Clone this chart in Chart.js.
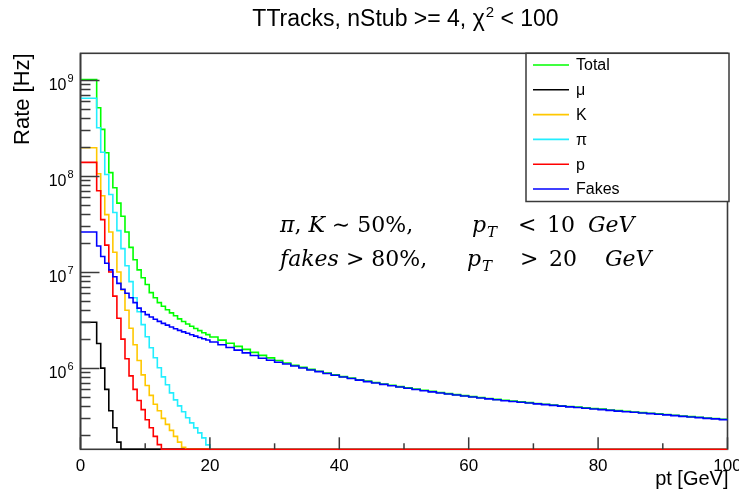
<!DOCTYPE html>
<html><head><meta charset="utf-8">
<script src="https://cdn.jsdelivr.net/npm/chart.js@4.4.1/dist/chart.umd.min.js"></script>
<style>html,body{margin:0;padding:0;background:#fff}#wrap{width:739px;height:492px;position:relative}</style>
</head><body><div id="wrap"><canvas id="c" width="739" height="492"></canvas></div>
<script>
// ---- data ----
// low edges of the 0.625 GeV bins, 0-20 GeV
const ptLow = [0,0.625,1.25,1.875,2.5,3.125,3.75,4.375,5,5.625,6.25,6.875,7.5,8.125,8.75,9.375,
  10,10.625,11.25,11.875,12.5,13.125,13.75,14.375,15,15.625,16.25,16.875,17.5,18.125,18.75,19.375];
// low edges of the 1.25 GeV bins used for the smooth tail, 20-100 GeV
const ptTail = [20,21.25,22.5,23.75,25,26.25,27.5,28.75,30,31.25,32.5,33.75,35,36.25,37.5,38.75,
  40,41.25,42.5,43.75,45,46.25,47.5,48.75,50,51.25,52.5,53.75,55,56.25,57.5,58.75,
  60,61.25,62.5,63.75,65,66.25,67.5,68.75,70,71.25,72.5,73.75,75,76.25,77.5,78.75,
  80,81.25,82.5,83.75,85,86.25,87.5,88.75,90,91.25,92.5,93.75,95,96.25,97.5,98.75];
const ptMax = 100;

const seriesNames  = ['Total','μ','K','π','p','Fakes'];
const seriesColors = ['#00ff00','#000000','#ffc800','#22eeff','#ff0000','#0000ff'];

const totalLow = [1.0e9,1.0e9,1.0e9,1.0e9,5.1e8,3.04e8,1.74e8,1.08e8,7.5e7,5.2e7,3.8e7,2.6e7,1.8e7,1.34e7,1.05e7,8.7e6,
  7.4e6,6.1e6,5.4e6,4.8e6,4.4e6,4.05e6,3.75e6,3.5e6,3.25e6,3.05e6,2.87e6,2.72e6,2.58e6,2.45e6,2.33e6,2.23e6];
const totalTail = [2.107e6,1.954e6,1.811e6,1.681e6,1.565e6,1.456e6,1.356e6,1.276e6,1.200e6,1.129e6,
  1.072e6,1.020e6,9.70e5,9.27e5,8.87e5,8.50e5,8.16e5,7.86e5,7.57e5,7.31e5,
  7.07e5,6.84e5,6.62e5,6.42e5,6.23e5,6.04e5,5.88e5,5.72e5,5.57e5,5.43e5,
  5.30e5,5.17e5,5.05e5,4.94e5,4.83e5,4.73e5,4.63e5,4.54e5,4.45e5,4.37e5,
  4.28e5,4.21e5,4.13e5,4.06e5,3.99e5,3.93e5,3.86e5,3.80e5,3.74e5,3.67e5,
  3.61e5,3.56e5,3.50e5,3.44e5,3.39e5,3.34e5,3.29e5,3.23e5,3.18e5,3.13e5,
  3.08e5,3.03e5,2.99e5,2.94e5];
const muLow = [3.0e6,3.0e6,3.0e6,3.0e6,1.8e6,1.0e6,6.0e5,3.6e5,2.4e5,1.7e5,0,0,0,0,0,0,
  0,0,0,0,0,0,0,0,0,0,0,0,0,0,0,0];
const kLow = [1.96e8,1.96e8,1.96e8,1.96e8,1.05e8,6.2e7,3.95e7,2.6e7,1.6e7,1.0e7,6.5e6,4.0e6,2.6e6,1.75e6,1.2e6,8.5e5,
  6.6e5,5.2e5,4.2e5,3.6e5,3.0e5,2.6e5,2.25e5,1.95e5,1.7e5,1.5e5,0,0,0,0,0,0];
const piLow = [6.4e8,6.4e8,6.4e8,6.4e8,3.16e8,1.76e8,1.03e8,6.39e7,4.15e7,2.69e7,1.75e7,1.16e7,7.93e6,5.40e6,3.86e6,2.83e6,
  2.12e6,1.63e6,1.28e6,1.01e6,8.11e5,6.70e5,5.53e5,4.67e5,4.05e5,3.51e5,3.04e5,2.69e5,2.39e5,2.12e5,1.88e5,1.59e5];
const pLow = [1.38e8,1.38e8,1.38e8,1.38e8,7.0e7,3.5e7,1.9e7,1.0e7,5.6e6,3.3e6,2.0e6,1.25e6,8.3e5,6.0e5,4.6e5,3.7e5,
  2.9e5,2.4e5,1.95e5,1.6e5,0,0,0,0,0,0,0,0,0,0,0,0];
const fakesLow = [2.6e7,2.6e7,2.6e7,2.6e7,1.86e7,1.45e7,1.23e7,1.05e7,8.9e6,7.6e6,6.6e6,6.0e6,5.4e6,4.8e6,4.2e6,3.85e6,
  3.6e6,3.4e6,3.22e6,3.06e6,2.92e6,2.8e6,2.68e6,2.57e6,2.47e6,2.38e6,2.3e6,2.22e6,2.15e6,2.08e6,2.02e6,1.96e6];
const fakesTail = [1.866e6,1.749e6,1.639e6,1.537e6,1.440e6,1.350e6,1.267e6,1.205e6,1.150e6,1.101e6,
  1.051e6,1.003e6,9.57e5,9.18e5,8.79e5,8.42e5,8.08e5,7.78e5,7.49e5,7.24e5,
  7.00e5,6.77e5,6.55e5,6.36e5,6.17e5,5.98e5,5.82e5,5.66e5,5.51e5,5.38e5,
  5.25e5,5.12e5,5.00e5,4.89e5,4.78e5,4.68e5,4.58e5,4.49e5,4.41e5,4.33e5,
  4.24e5,4.17e5,4.09e5,4.02e5,3.95e5,3.89e5,3.82e5,3.76e5,3.70e5,3.63e5,
  3.57e5,3.52e5,3.47e5,3.41e5,3.36e5,3.31e5,3.26e5,3.20e5,3.15e5,3.10e5,
  3.05e5,3.00e5,2.96e5,2.91e5];

const xTickLabels = [0,20,40,60,80,100];
const xMinorTicks = [10,30,50,70,90];
const yTickExponents = [6,7,8,9];
const yMin = 1.43e5, yMax = 1.88e9;

const titleText = ['TTracks, nStub >= 4, χ', '2', ' < 100'];
const xTitle = 'pt [GeV]';
const yTitle = 'Rate [Hz]';

// ---- build step histograms ----
function hist(lowVals, tailVals){
  const pts = [];
  ptLow.forEach((x,i)=>pts.push({x:x, y: lowVals[i] > 0 ? lowVals[i] : yMin}));
  if (tailVals) ptTail.forEach((x,i)=>pts.push({x:x, y: tailVals[i] > 0 ? tailVals[i] : yMin}));
  else pts.push({x:ptTail[0], y:yMin});
  pts.push({x:ptMax, y:pts[pts.length-1].y});
  return pts;
}
const seriesData = [hist(totalLow,totalTail), hist(muLow), hist(kLow), hist(piLow), hist(pLow), hist(fakesLow,fakesTail)];
const drawOrder = [5,4,3,2,1,0]; // higher = drawn earlier (Fakes on top)

const datasets = seriesNames.map((n,i)=>({
  label:n, data:seriesData[i], borderColor:seriesColors[i], backgroundColor:seriesColors[i],
  borderWidth:1.6, pointRadius:0, stepped:'before', fill:false, order:drawOrder[i],
  clip:{left:1, top:1, right:1, bottom:3}
}));

const FRAME = '#3a3a3a';
const SANS = '"Liberation Sans", Arial, sans-serif';
const decor = {
  id:'decor',
  beforeDatasetsDraw(chart){
    const ctx = chart.ctx, a = chart.chartArea;
    ctx.save();
    ctx.strokeStyle = FRAME; ctx.lineWidth = 1.6;
    ctx.strokeRect(a.left, a.top, a.right-a.left, a.bottom-a.top);
    ctx.restore();
  },
  afterDatasetsDraw(chart){
    const ctx = chart.ctx, a = chart.chartArea, xs = chart.scales.x, ys = chart.scales.y;
    ctx.save();
    ctx.strokeStyle = FRAME; ctx.lineWidth = 1.5;
    // y ticks
    for (let e=5;e<=9;e++){
      for (let m=1;m<=9;m++){
        const v = m*Math.pow(10,e);
        if (v < yMin || v > yMax) continue;
        const y = Math.round(ys.getPixelForValue(v))+0.5;
        const len = m===1 ? 19 : 10;
        ctx.beginPath(); ctx.moveTo(a.left,y); ctx.lineTo(a.left+len,y); ctx.stroke();
      }
    }
    // left axis line on top
    ctx.lineWidth = 1.6;
    ctx.beginPath(); ctx.moveTo(a.left, a.top); ctx.lineTo(a.left, a.bottom); ctx.stroke();
    // x ticks
    ctx.lineWidth = 1.5;
    xTickLabels.forEach(v=>{const x=xs.getPixelForValue(v); ctx.beginPath(); ctx.moveTo(x,a.bottom); ctx.lineTo(x,a.bottom-12); ctx.stroke();});
    xMinorTicks.forEach(v=>{const x=xs.getPixelForValue(v); ctx.beginPath(); ctx.moveTo(x,a.bottom); ctx.lineTo(x,a.bottom-6); ctx.stroke();});

    ctx.fillStyle = '#000';
    // x tick labels
    ctx.font = '17px '+SANS;
    ctx.textAlign = 'center'; ctx.textBaseline = 'alphabetic';
    xTickLabels.forEach(v=>ctx.fillText(String(v), xs.getPixelForValue(v), a.bottom+22));
    // y tick labels 10^n
    yTickExponents.forEach(e=>{
      const y = ys.getPixelForValue(Math.pow(10,e));
      ctx.font = '16px '+SANS;
      ctx.textAlign = 'right';
      ctx.fillText('10', a.left-14, y+10);
      ctx.font = '11px '+SANS;
      ctx.textAlign = 'left';
      ctx.fillText(String(e), a.left-13, y+2);
    });
    // axis titles
    ctx.font = '20px '+SANS;
    ctx.textAlign = 'right';
    ctx.fillText(xTitle, a.right+1, a.bottom+36);
    ctx.save();
    ctx.translate(29, a.top);
    ctx.rotate(-Math.PI/2);
    ctx.font = '22px '+SANS;
    ctx.textAlign = 'right';
    ctx.fillText(yTitle, 0, 0);
    ctx.restore();
    // title
    ctx.textAlign = 'left';
    const tf = '23px '+SANS, sf = '15px '+SANS;
    ctx.font = tf; const w0 = ctx.measureText(titleText[0]).width, w2 = ctx.measureText(titleText[2]).width;
    ctx.font = sf; const w1 = ctx.measureText(titleText[1]).width;
    const tx = (a.left+a.right)/2 - (w0+w1+w2)/2 + 1, ty = 26;
    ctx.font = tf; ctx.fillText(titleText[0], tx, ty);
    ctx.font = sf; ctx.fillText(titleText[1], tx+w0+1, ty-9);
    ctx.font = tf; ctx.fillText(titleText[2], tx+w0+w1+1, ty);

    // legend
    const lx0 = 526, ly0 = a.top, lx1 = 729, ly1 = 201.5;
    ctx.fillStyle = '#fff'; ctx.fillRect(lx0, ly0, lx1-lx0, ly1-ly0);
    ctx.strokeStyle = FRAME; ctx.lineWidth = 1.5; ctx.strokeRect(lx0, ly0, lx1-lx0, ly1-ly0);
    ctx.font = '16px '+SANS;
    ctx.textBaseline = 'middle'; ctx.textAlign = 'left';
    chart.data.datasets.forEach((ds,i)=>{
      const y = 65 + i*24.8;
      ctx.strokeStyle = ds.borderColor; ctx.lineWidth = 1.6;
      ctx.beginPath(); ctx.moveTo(533,y); ctx.lineTo(569,y); ctx.stroke();
      ctx.fillStyle = '#000'; ctx.fillText(ds.label, 576, y+1);
    });

    // annotation (math style), tokens placed at their x positions
    ctx.textBaseline = 'alphabetic';
    const size = 22;
    const fi = `italic ${size}px "DejaVu Serif", serif`, fn = `${size}px "DejaVu Serif", serif`, fs = `italic 15px "DejaVu Serif", serif`;
    function tok(x, y, t, s){
      ctx.font = s==='i'?fi:(s==='s'?fs:fn);
      ctx.fillText(t, x, y + (s==='s'?5:0));
      return x + ctx.measureText(t).width;
    }
    ctx.fillStyle = '#000';
    let x = 280;
    x = tok(x, 232, 'π', 'i'); x = tok(x, 232, ', ', 'n'); x = tok(x, 232, 'K', 'i'); tok(x, 232, ' ∼ 50%,', 'n');
    x = tok(472, 232, 'p', 'i'); tok(x+1, 232, 'T', 's');
    tok(518, 232, '<', 'n'); tok(547, 232, '10', 'n'); tok(588, 232, 'GeV', 'i');
    x = tok(280, 266, 'fakes', 'i'); tok(x, 266, ' > 80%,', 'n');
    x = tok(467, 266, 'p', 'i'); tok(x+1, 266, 'T', 's');
    tok(520, 266, '>', 'n'); tok(549, 266, '20', 'n'); tok(605, 266, 'GeV', 'i');
    ctx.restore();
  }
};

new Chart(document.getElementById('c'), {
  type:'line',
  data:{datasets:datasets},
  options:{
    responsive:false, animation:false, events:[],
    layout:{padding:{left:80.5, right:11.5, top:53.3, bottom:42.7}},
    plugins:{legend:{display:false}, tooltip:{enabled:false}, title:{display:false}},
    elements:{line:{tension:0}},
    scales:{
      x:{type:'linear', min:0, max:ptMax, display:false},
      y:{type:'logarithmic', min:yMin, max:yMax, display:false}
    }
  },
  plugins:[decor]
});
</script></body></html>
